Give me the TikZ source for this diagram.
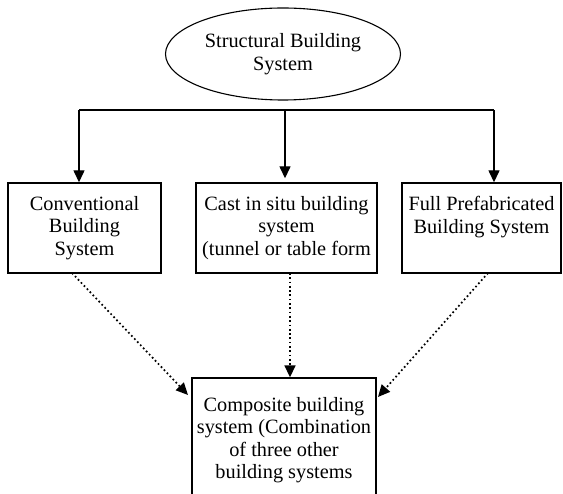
\documentclass[tikz,border=0pt]{standalone}
\usepackage{fontspec}
\setmainfont{Liberation Serif}
\usetikzlibrary{shapes.geometric,arrows.meta}
\begin{document}
\begin{tikzpicture}[x=1pt,y=-1pt,
  txt/.style={font=\fontsize{20.3}{22.5}\selectfont, align=center, inner sep=0pt},
  sysbox/.style={txt, draw, line width=1.4pt, rectangle},
  solidarrow/.style={line width=1.4pt, -{Triangle[length=12pt,width=11pt]}},
  dotarrow/.style={line width=1.7pt, dash pattern=on 1.7pt off 2.6pt, -{Triangle[length=12pt,width=11pt]}}]
\useasboundingbox (0,0) rectangle (563,494);
\clip (0,0) rectangle (563,494);
\node[txt, draw, line width=1.1pt, ellipse, minimum width=235pt, minimum height=92pt] (top) at (283,54) {Structural Building\\System};
\node[sysbox, minimum width=153pt, minimum height=90pt] (conv) at (84.5,228) {Conventional\\Building\\System};
\node[sysbox, minimum width=181pt, minimum height=90pt] (cast) at (286.5,228) {Cast in situ building\\system\\(tunnel or table form};
\node[sysbox, minimum width=159pt, minimum height=90pt] (full) at (481.5,228) {Full Prefabricated\\Building System\\[4pt]};
\node[sysbox, minimum width=184pt, minimum height=124pt] (comp) at (284,440) {Composite building\\system (Combination\\of three other\\building systems};
\coordinate (bl) at (79,110);
\coordinate (bm) at (285,110);
\coordinate (br) at (494,110);
\draw[line width=1.4pt] (bl) -- (br);
\draw[solidarrow] (bl) -- (bl |- conv.north);
\draw[solidarrow, shorten >=4pt] (bm) -- (bm |- cast.north);
\draw[solidarrow] (br) -- (br |- full.north);
\coordinate (d1) at (72,273);
\coordinate (d2) at (290,273);
\coordinate (d3) at (488,273);
\coordinate (e1) at (188,395);
\coordinate (e3) at (378,397);
\draw[dotarrow] (d1) -- (e1);
\draw[dotarrow] (d2) -- (d2 |- comp.north);
\draw[dotarrow] (d3) -- (e3);
\end{tikzpicture}
\end{document}
